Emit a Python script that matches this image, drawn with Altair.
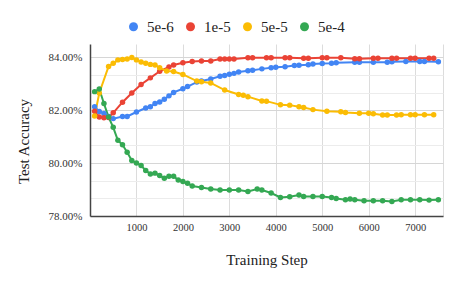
import altair as alt
import pandas as pd

series_names = ["5e-6", "1e-5", "5e-5", "5e-4"]
series_colors = ["#4285F4", "#EA4335", "#FBBC04", "#34A853"]

blue_steps = [100, 200, 300, 400, 500, 700, 800, 1000, 1200, 1300, 1400, 1500, 1600, 1700, 1800,
              2000, 2100, 2300, 2400, 2600, 2800, 2900, 3000, 3100, 3200, 3400, 3500, 3700, 3900,
              4000, 4200, 4400, 4500, 4700, 4800, 5000, 5200, 5300, 5700, 5800, 6100, 6400, 6500,
              6800, 7100, 7200, 7500]
blue_vals = [82.13, 81.95, 81.87, 81.76, 81.68, 81.76, 81.76, 81.93, 82.08, 82.13, 82.25, 82.31, 82.41,
             82.54, 82.67, 82.81, 82.89, 83.06, 83.10, 83.18, 83.28, 83.31, 83.36, 83.39, 83.44, 83.49,
             83.51, 83.56, 83.60, 83.62, 83.64, 83.69, 83.70, 83.72, 83.74, 83.76, 83.77, 83.79, 83.81,
             83.81, 83.81, 83.81, 83.83, 83.84, 83.84, 83.84, 83.83]

red_steps = [100, 200, 300, 400, 500, 700, 900, 1100, 1300, 1500, 1700, 1800, 2000, 2200, 2400, 2600,
             2800, 2900, 3000, 3100, 3400, 3500, 3800, 3900, 4200, 4300, 4600, 4700, 5000, 5100, 5400,
             5700, 5800, 6100, 6200, 6500, 6600, 6900, 7000, 7300, 7400]
red_vals = [81.96, 81.74, 81.71, 81.72, 81.90, 82.30, 82.65, 82.97, 83.22, 83.47, 83.63, 83.71, 83.79,
            83.84, 83.86, 83.86, 83.93, 83.93, 83.93, 83.93, 83.98, 83.98, 83.98, 83.98, 83.98, 83.98,
            83.96, 83.96, 83.98, 83.98, 83.98, 83.94, 83.94, 83.96, 83.96, 83.96, 83.96, 83.96, 83.96,
            83.96, 83.96]

yellow_steps = [100, 200, 400, 500, 600, 700, 800, 900, 1000, 1100, 1200, 1300, 1400, 1500, 1650, 1800,
                2000, 2300, 2400, 2600, 2900, 3200, 3300, 3400, 3700, 3800, 4100, 4300, 4500, 4600, 4800,
                5100, 5400, 5500, 5800, 6000, 6100, 6300, 6400, 6600, 6700, 6900, 7000, 7200, 7400]
yellow_vals = [81.78, 82.65, 83.65, 83.77, 83.90, 83.91, 83.93, 83.99, 83.90, 83.82, 83.77, 83.73, 83.71,
               83.60, 83.48, 83.46, 83.35, 83.10, 83.07, 83.03, 82.76, 82.59, 82.56, 82.51, 82.35, 82.34,
               82.20, 82.19, 82.13, 82.10, 82.02, 81.96, 81.94, 81.91, 81.88, 81.88, 81.86, 81.82, 81.82,
               81.82, 81.83, 81.83, 81.83, 81.83, 81.83]

green_steps = [100, 200, 300, 400, 500, 600, 700, 800, 900, 1000, 1100, 1200, 1300, 1400, 1500, 1600,
               1700, 1800, 1900, 2000, 2100, 2200, 2400, 2600, 2800, 3000, 3200, 3400, 3600, 3700, 3900,
               4100, 4300, 4500, 4600, 4800, 5000, 5200, 5300, 5500, 5600, 5700, 5900, 6100, 6300, 6500,
               6700, 6900, 7100, 7300, 7500]
green_vals = [82.70, 82.80, 82.25, 81.74, 81.35, 80.86, 80.69, 80.41, 80.10, 80.00, 79.91, 79.72, 79.59,
              79.62, 79.53, 79.43, 79.50, 79.50, 79.36, 79.30, 79.24, 79.13, 79.08, 79.02, 78.98, 78.98,
              78.98, 78.93, 79.02, 78.98, 78.87, 78.70, 78.73, 78.79, 78.74, 78.74, 78.74, 78.70, 78.66,
              78.61, 78.64, 78.61, 78.58, 78.58, 78.58, 78.55, 78.61, 78.61, 78.61, 78.60, 78.61]

x_ticks = [1000, 2000, 3000, 4000, 5000, 6000, 7000, 7600]
y_major = [78, 80, 82, 84]
y_minor = [78.6667, 79.3333, 80.6667, 81.3333, 82.6667, 83.3333]

frames = []
for name, st, vs in zip(series_names,
                        [blue_steps, red_steps, yellow_steps, green_steps],
                        [blue_vals, red_vals, yellow_vals, green_vals]):
    frames.append(pd.DataFrame({"step": st, "acc": vs, "lr": name}))
df = pd.concat(frames, ignore_index=True)

FONT = "Liberation Serif"

color = alt.Color("lr:N",
                  scale=alt.Scale(domain=series_names, range=series_colors),
                  legend=alt.Legend(orient="none", direction="horizontal", legendX=36, legendY=-25,
                                    title="", symbolType="circle", symbolSize=81,
                                    symbolStrokeWidth=0, labelFontSize=15, labelFont=FONT,
                                    labelColor="#222", labelOffset=6, columnPadding=9))

xenc = alt.X("step:Q", scale=alt.Scale(domain=[0, 7600], nice=False, zero=False),
             axis=alt.Axis(values=x_ticks, labelExpr="datum.value > 7500 ? '' : format(datum.value, 'd')",
                           title="Training Step", titleFont=FONT, titleFontSize=15,
                           titleFontWeight="normal", titleColor="#222", titlePadding=20,
                           labelFont=FONT, labelFontSize=10.5, labelColor="#333", labelPadding=6,
                           ticks=False, grid=True, gridColor="#dcdcdc", domainColor="#444",
                           domainWidth=1.5))

yscale = alt.Scale(domain=[78, 84.5], nice=False, zero=False)

lines = alt.Chart(df).mark_line(strokeWidth=2).encode(
    x=xenc,
    y=alt.Y("acc:Q", scale=yscale,
            axis=alt.Axis(values=y_minor, orient="left", labels=False, ticks=False, domain=False,
                          grid=True, gridColor="#ececec", title="")),
    color=color,
    detail="lr:N",
)

points = alt.Chart(df).mark_point(filled=True, size=30, opacity=1).encode(
    x=xenc,
    y=alt.Y("acc:Q", scale=yscale,
            axis=alt.Axis(values=y_major, orient="left",
                          labelExpr="format(datum.value, '.2f') + '%'",
                          labelFont=FONT, labelFontSize=11, labelColor="#333", labelPadding=8,
                          ticks=False, grid=True, gridColor="#d6d6d6", domainColor="#444",
                          domainWidth=1.5,
                          title="Test Accuracy", titleFont=FONT, titleFontSize=15,
                          titleFontWeight="normal", titleColor="#222",
                          titleX=-67, titleY=97, titleAngle=270, titleAlign="center",
                          titleBaseline="middle")),
    color=color,
)

chart = alt.layer(lines, points).resolve_axis(y="independent").properties(
    width=353, height=172,
    autosize=alt.AutoSizeParams(type="none"),
    padding={"left": 82, "top": 36, "right": 6, "bottom": 59},
).configure(background="white", font=FONT).configure_view(stroke=None).configure_axis(
    labelFont=FONT, titleFont=FONT
).configure_legend(labelFont=FONT, titleFont=FONT)

chart.save("out.html", embed_options={"renderer": "svg", "actions": False})
